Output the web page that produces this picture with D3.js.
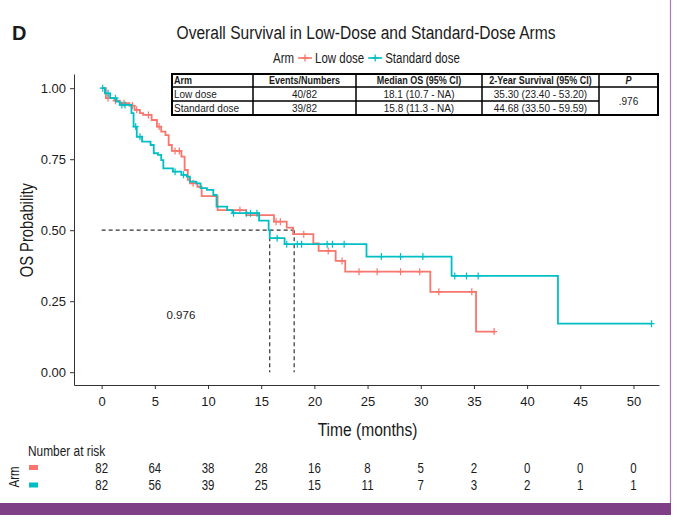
<!DOCTYPE html>
<html>
<head>
<meta charset="utf-8">
<script src="https://cdn.jsdelivr.net/npm/d3@7"></script>
<style>
  body { margin: 0; background: #fff; }
  svg text { font-family: "Liberation Sans", Arial, sans-serif; fill: #1a1a1a; }
  .axis path, .axis line { stroke: #333; }
</style>
</head>
<body>
<svg id="chart" width="680" height="524"></svg>
<script>
// Kaplan-Meier steps: time (months) where survival drops, and the new value
const lowTimes = [0, 0.4, 1.2, 1.7, 2.6, 3.1, 3.6, 3.9, 4.7, 5.2, 5.6, 6.0, 6.3, 6.6, 7.5, 7.8, 8.1, 8.3, 9.0, 9.4, 10.9, 13.6, 16.2, 17.4, 18.0, 19.9, 20.4, 22.0, 22.9, 30.9, 35.2];
const lowSurv  = [1, 0.965, 0.956, 0.947, 0.939, 0.924, 0.912, 0.906, 0.888, 0.865, 0.847, 0.835, 0.800, 0.779, 0.759, 0.712, 0.677, 0.665, 0.653, 0.620, 0.571, 0.553, 0.530, 0.509, 0.486, 0.454, 0.427, 0.392, 0.354, 0.283, 0.143];
const lowEnd = 37.0;
const lowCensor = [0.6, 1.3, 2.1, 2.9, 3.3, 4.4, 5.4, 6.9, 7.3, 8.6, 13.0, 16.4, 16.8, 19.0, 21.3, 22.6, 24.2, 25.9, 28.1, 29.9, 31.7, 34.8, 36.9];

const stdTimes = [0, 0.3, 0.8, 1.4, 1.7, 2.8, 3.0, 3.3, 3.8, 4.6, 4.9, 5.3, 5.6, 5.8, 6.7, 7.5, 8.0, 8.3, 8.9, 9.3, 9.9, 10.5, 10.8, 11.8, 12.3, 14.8, 15.7, 15.8, 17.2, 24.9, 32.9, 42.9];
const stdSurv  = [1, 0.982, 0.965, 0.953, 0.941, 0.912, 0.865, 0.829, 0.812, 0.800, 0.771, 0.765, 0.747, 0.718, 0.706, 0.695, 0.689, 0.671, 0.665, 0.648, 0.642, 0.624, 0.583, 0.571, 0.560, 0.534, 0.500, 0.472, 0.451, 0.407, 0.339, 0.171];
const stdEnd = 51.7;
const stdCensor = [0.1, 0.6, 1.3, 1.9, 2.2, 3.2, 3.6, 6.9, 7.7, 12.4, 13.6, 14.0, 14.6, 16.5, 17.4, 18.4, 18.8, 21.2, 21.7, 22.8, 26.3, 28.1, 30.2, 33.2, 34.3, 35.4, 51.7];

const medians = [18.1, 15.8];

// number at risk
const riskTimes = [0, 5, 10, 15, 20, 25, 30, 35, 40, 45, 50];
const lowRisk = [82, 64, 38, 28, 16, 8, 5, 2, 0, 0, 0];
const stdRisk = [82, 56, 39, 25, 15, 11, 7, 3, 2, 1, 1];

// summary table
const tableHeader = ["Arm", "Events/Numbers", "Median OS (95% CI)", "2-Year Survival (95% CI)", "P"];
const tableRows = [
  ["Low dose", "40/82", "18.1 (10.7 - NA)", "35.30 (23.40 - 53.20)"],
  ["Standard dose", "39/82", "15.8 (11.3 - NA)", "44.68 (33.50 - 59.59)"]
];
const pValue = ".976";
const pLabel = "0.976";

const xTicks = [0, 5, 10, 15, 20, 25, 30, 35, 40, 45, 50];
const yTicks = [0, 0.25, 0.5, 0.75, 1];

const arms = [
  {name: "Low dose", color: "#F8766D", times: lowTimes, surv: lowSurv, end: lowEnd, censor: lowCensor, risk: lowRisk},
  {name: "Standard dose", color: "#00BFC4", times: stdTimes, surv: stdSurv, end: stdEnd, censor: stdCensor, risk: stdRisk}
];

const svg = d3.select("#chart");
const margin = {top: 74, left: 74};
const width = 585, height = 311;

// no condensed font installed -> squeeze Liberation Sans horizontally
const squeeze = 0.82;
function narrowText(parent, px, py, size, str, anchor, rot) {
  return parent.append("text")
    .attr("transform", `translate(${px},${py})${rot ? ` rotate(${rot})` : ""} scale(${squeeze},1)`)
    .attr("text-anchor", anchor || "start")
    .style("font-size", size + "px")
    .text(str);
}

const x = d3.scaleLinear().domain([-2.6, 52.4]).range([0, width]);
const y = d3.scaleLinear().domain([-0.045, 1.05]).range([height, 0]);

// page frame bits (purple edge + band)
svg.append("line").attr("x1", 670.5).attr("x2", 670.5).attr("y1", 0).attr("y2", 503)
  .attr("stroke", "#a77bb0").attr("stroke-width", 1.2);
svg.append("rect").attr("x", 0).attr("y", 503).attr("width", 671).attr("height", 12).attr("fill", "#7e3f86");

svg.append("text").attr("x", 12).attr("y", 40).style("font-size", "20px").style("font-weight", "bold").text("D");
narrowText(svg, 366, 39, 19, "Overall Survival in Low-Dose and Standard-Dose Arms", "middle");

// legend
const legend = svg.append("g").attr("transform", "translate(273,58)");
const armLbl = narrowText(legend, 0, 5, 14, "Arm");
let lx = armLbl.node().getComputedTextLength() * squeeze + 4;
arms.forEach(a => {
  legend.append("line").attr("x1", lx).attr("x2", lx + 14).attr("stroke", a.color).attr("stroke-width", 1.6);
  legend.append("path").attr("d", `M${lx + 7},-3.5V3.5M${lx + 3.5},0H${lx + 10.5}`).attr("stroke", a.color).attr("stroke-width", 1.3);
  const t = narrowText(legend, lx + 17, 5, 14, a.name);
  lx += 17 + t.node().getComputedTextLength() * squeeze + 4;
});

const chart = svg.append("g").attr("transform", `translate(${margin.left},${margin.top})`);

chart.append("g").attr("class", "axis").attr("transform", `translate(0,${height})`)
  .call(d3.axisBottom(x).tickValues(xTicks).tickSize(4).tickSizeOuter(0).tickPadding(5))
  .selectAll("text").attr("dy", "0.9em").style("font-size", "13px").style("fill", "#1a1a1a");
chart.append("g").attr("class", "axis")
  .call(d3.axisLeft(y).tickValues(yTicks).tickFormat(d3.format(".2f")).tickSize(4).tickSizeOuter(0).tickPadding(4))
  .selectAll("text").style("font-size", "13px").style("fill", "#1a1a1a");

narrowText(svg, margin.left + x(25), 436, 19, "Time (months)", "middle");
narrowText(svg, 33, margin.top + y(0.5), 18, "OS Probability", "middle", -90);

// median reference lines
chart.append("path")
  .attr("d", `M${x(0)},${y(0.5)}H${x(d3.max(medians))}` + medians.map(m => `M${x(m)},${y(0.5)}V${y(0)}`).join(""))
  .attr("fill", "none").attr("stroke", "#333").attr("stroke-width", 1.2).attr("stroke-dasharray", "4,3");

const line = d3.line().x(d => x(d[0])).y(d => y(d[1])).curve(d3.curveStepAfter);
const survAt = (a, t) => a.surv[d3.bisectRight(a.times, t) - 1];

arms.forEach(a => {
  const pts = a.times.map((t, i) => [t, a.surv[i]]);
  pts.push([a.end, a.surv[a.surv.length - 1]]);
  chart.append("path").datum(pts).attr("d", line)
    .attr("fill", "none").attr("stroke", a.color).attr("stroke-width", 1.8);
  chart.append("g").selectAll("path").data(a.censor).join("path")
    .attr("d", t => `M${x(t)},${y(survAt(a, t)) - 3.5}v7M${x(t) - 3},${y(survAt(a, t))}h6`)
    .attr("stroke", a.color).attr("stroke-width", 1.2);
});

chart.append("text").attr("x", x(6.1)).attr("y", y(0.2) + 4).style("font-size", "11.5px").text(pLabel);

// summary table on top of the plot
const colX = [172, 253, 356, 482, 599, 658];
const rowY = [74, 87, 101, 115];
const tbl = svg.append("g");
tbl.append("rect").attr("x", colX[0]).attr("y", rowY[0]).attr("width", colX[5] - colX[0]).attr("height", rowY[3] - rowY[0])
  .attr("fill", "#fff").attr("stroke", "#000").attr("stroke-width", 2);
tbl.append("path")
  .attr("d", colX.slice(1, 5).map(cx => `M${cx},${rowY[0]}V${rowY[3]}`).join("") +
    `M${colX[0]},${rowY[1]}H${colX[5]}M${colX[0]},${rowY[2]}H${colX[4]}`)
  .attr("stroke", "#000").attr("stroke-width", 1.5);
tableHeader.forEach((h, i) => {
  narrowText(tbl, i === 0 ? colX[0] + 2 : (colX[i] + colX[i + 1]) / 2, rowY[0] + 10, 11, h, i === 0 ? "start" : "middle")
    .style("font-weight", "bold").style("font-style", i === 4 ? "italic" : null);
});
tableRows.forEach((r, j) => {
  r.forEach((v, i) => {
    tbl.append("text")
      .attr("x", i === 0 ? colX[0] + 2 : (colX[i] + colX[i + 1]) / 2)
      .attr("y", rowY[j + 1] + 10.5).attr("text-anchor", i === 0 ? "start" : "middle")
      .style("font-size", "10px").text(v);
  });
});
tbl.append("text").attr("x", (colX[4] + colX[5]) / 2).attr("y", rowY[2] + 3.5).attr("text-anchor", "middle")
  .style("font-size", "10px").text(pValue);

// number at risk table
narrowText(svg, 28, 456, 14.5, "Number at risk");
narrowText(svg, 19, 477, 14, "Arm", "middle", -90);
arms.forEach((a, j) => {
  const ry = 467.5 + j * 17.5;
  svg.append("rect").attr("x", 29).attr("y", ry - 2.5).attr("width", 9).attr("height", 5).attr("fill", a.color);
  a.risk.forEach((d, i) => narrowText(svg, margin.left + x(riskTimes[i]), ry + 5, 14, d, "middle"));
});
</script>
</body>
</html>
